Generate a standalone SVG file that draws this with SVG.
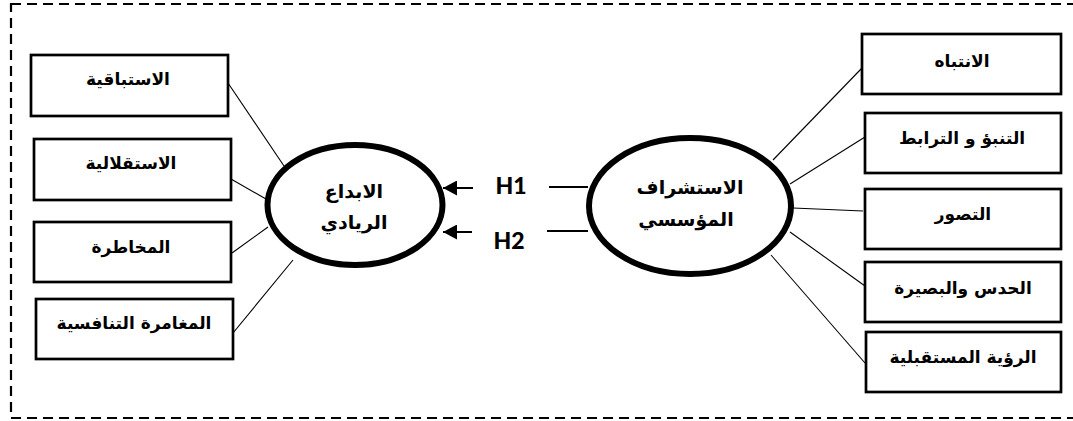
<svg xmlns="http://www.w3.org/2000/svg" width="1073" height="421" viewBox="0 0 1073 421">
  <defs>
    <style>
      .frame { fill: none; stroke: #000; stroke-width: 2.2; stroke-dasharray: 10 6; }
      .box { fill: #fff; stroke: #000; stroke-width: 2.7; }
      .ell { fill: #fff; stroke: #000; stroke-width: 6; }
      .lbl { font-family: "DejaVu Sans", "Liberation Sans", sans-serif; font-weight: bold; font-size: 17px; fill: #000; text-anchor: middle; }
      .elbl { font-family: "DejaVu Sans", "Liberation Sans", sans-serif; font-weight: bold; font-size: 19px; fill: #000; text-anchor: middle; }
      .hyp { font-family: "Lato", "Open Sans", "Liberation Sans", sans-serif; font-weight: 900; font-size: 23px; fill: #000; text-anchor: middle; }
      .thin { stroke: #000; stroke-width: 1.1; fill: none; }
      .thick { stroke: #000; stroke-width: 2; fill: none; }
    </style>
    <marker id="ah" markerWidth="14" markerHeight="15" refX="14" refY="7.5" orient="auto" markerUnits="userSpaceOnUse">
      <path d="M0,0 L14,7.5 L0,15 z" fill="#000"/>
    </marker>
  </defs>

  <rect class="frame" x="11" y="4" width="1070" height="414"/>

  <g id="connectors">
    <line class="thin" x1="228" y1="83" x2="284" y2="166"/>
    <line class="thin" x1="231" y1="179" x2="266" y2="199"/>
    <line class="thin" x1="232" y1="253" x2="268" y2="227"/>
    <line class="thin" x1="233" y1="333" x2="293" y2="260"/>
    <line class="thin" x1="862" y1="68" x2="773" y2="160"/>
    <line class="thin" x1="865" y1="137" x2="790" y2="184"/>
    <line class="thin" x1="863" y1="211" x2="793" y2="208"/>
    <line class="thin" x1="865" y1="286" x2="790" y2="232"/>
    <line class="thin" x1="865" y1="363" x2="771" y2="255"/>
    <line class="thick" x1="473" y1="188" x2="443" y2="188" marker-end="url(#ah)"/>
    <line class="thick" x1="472" y1="232" x2="443" y2="232" marker-end="url(#ah)"/>
    <line class="thick" x1="549" y1="187" x2="588" y2="187"/>
    <line class="thick" x1="547" y1="231" x2="588" y2="231"/>
  </g>

  <g id="h1"><text class="hyp" x="511" y="194">H1</text></g>
  <g id="h2"><text class="hyp" x="509" y="249">H2</text></g>

  <g id="node-ibdaa">
    <ellipse class="ell" cx="355" cy="205" rx="87.5" ry="60"/>
    <text class="elbl" x="354" y="198">الابداع</text>
    <text class="elbl" x="354" y="229">الريادي</text>
  </g>

  <g id="node-istishraf">
    <ellipse class="ell" cx="690" cy="206" rx="101" ry="68"/>
    <text class="elbl" x="690" y="194">الاستشراف</text>
    <text class="elbl" x="686" y="226">المؤسسي</text>
  </g>

  <g id="box-l1">
    <rect class="box" x="31" y="55" width="197" height="61"/>
    <text class="lbl" x="128" y="85">الاستباقية</text>
  </g>
  <g id="box-l2">
    <rect class="box" x="34" y="139" width="197" height="61"/>
    <text class="lbl" x="131" y="169">الاستقلالية</text>
  </g>
  <g id="box-l3">
    <rect class="box" x="34" y="222" width="197" height="60"/>
    <text class="lbl" x="131" y="253">المخاطرة</text>
  </g>
  <g id="box-l4">
    <rect class="box" x="36" y="299" width="197" height="60"/>
    <text class="lbl" x="134" y="329">المغامرة التنافسية</text>
  </g>

  <g id="box-r1">
    <rect class="box" x="862" y="34" width="199" height="60"/>
    <text class="lbl" x="962" y="67">الانتباه</text>
  </g>
  <g id="box-r2">
    <rect class="box" x="865" y="113" width="196" height="60"/>
    <text class="lbl" x="962" y="144">التنبؤ و الترابط</text>
  </g>
  <g id="box-r3">
    <rect class="box" x="865" y="189" width="196" height="60"/>
    <text class="lbl" x="963" y="220">التصور</text>
  </g>
  <g id="box-r4">
    <rect class="box" x="865" y="262" width="196" height="60"/>
    <text class="lbl" x="963" y="294">الحدس والبصيرة</text>
  </g>
  <g id="box-r5">
    <rect class="box" x="866" y="332" width="195" height="60"/>
    <text class="lbl" x="963" y="363">الرؤية المستقبلية</text>
  </g>
</svg>
